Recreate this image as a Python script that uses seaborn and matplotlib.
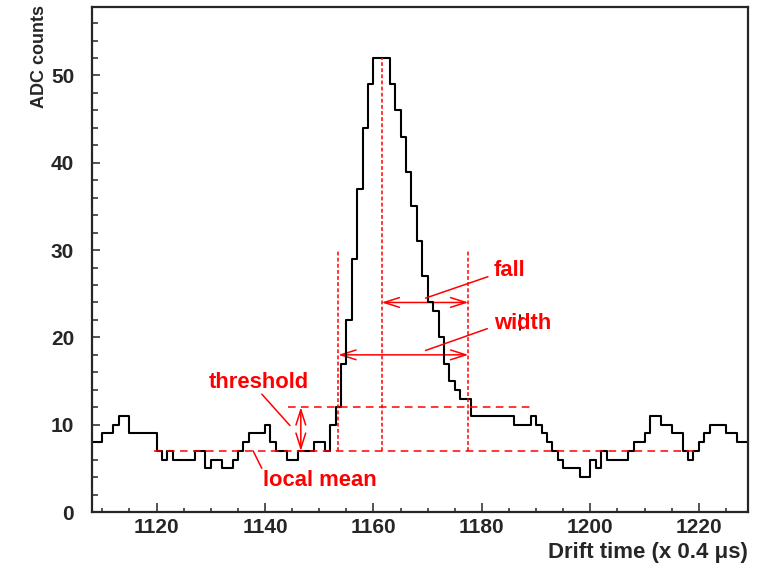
import matplotlib
matplotlib.use("Agg")
import matplotlib.pyplot as plt
import numpy as np
import pandas as pd
import seaborn as sns
from matplotlib.ticker import MultipleLocator
from matplotlib.patches import FancyArrowPatch

# ---------------- data ----------------
first_bin = 1108
adc_counts = [
    8, 8, 9, 9, 10, 11, 11, 9, 9, 9, 9, 9,          # 1108-1119
    7, 6, 7, 6, 6, 6, 6, 7, 7, 5,                    # 1120-1129
    6, 6, 5, 5, 6, 7, 8, 9, 9, 9,                    # 1130-1139
    10, 8, 7, 7, 6, 6, 7, 7, 7, 8,                   # 1140-1149
    8, 7, 10, 12, 17, 22, 29, 37, 44, 49,            # 1150-1159
    52, 52, 52, 49, 46, 43, 39, 35, 31, 27,          # 1160-1169
    24, 23, 20, 17, 15, 14, 13, 13, 11, 11,          # 1170-1179
    11, 11, 11, 11, 11, 11, 10, 10, 10, 11,          # 1180-1189
    10, 9, 8, 7, 6, 5, 5, 5, 4, 4,                   # 1190-1199
    6, 5, 7, 6, 6, 6, 6, 7, 8, 8,                    # 1200-1209
    9, 11, 11, 10, 10, 9, 9, 7, 6, 7,                # 1210-1219
    8, 9, 10, 10, 10, 9, 9, 8, 8,                    # 1220-1228
]
local_mean = 7
threshold = 12
peak_time = 1161.5
start_time = 1153.5
end_time = 1177.5
x_ticks = [1120, 1140, 1160, 1180, 1200, 1220]
y_ticks = [0, 10, 20, 30, 40, 50]

n = len(adc_counts)
times = [first_bin + i + 0.5 for i in range(n)]
df = pd.DataFrame({"time": times, "adc": adc_counts})

# ---------------- style ----------------
sns.set_style("ticks")
plt.rcParams["font.family"] = ["Liberation Sans", "DejaVu Sans"]
plt.rcParams["font.weight"] = "bold"

fig = plt.figure(figsize=(7.59, 5.67), dpi=100)
ax = fig.add_axes([0.1206, 0.097, 0.8644, 0.890])

sns.histplot(data=df, x="time", weights="adc", binwidth=1,
             binrange=(first_bin, first_bin + n), element="step",
             fill=False, color="black", linewidth=1.5, ax=ax)

ax.set_xlim(first_bin, first_bin + n)
ax.set_ylim(0, 57.8)

red = "#ff0000"
# local mean & threshold lines
ax.plot([1119.5, 1220], [local_mean, local_mean], color=red, lw=1.1,
        dashes=(5, 3.5))
ax.plot([1144.3, 1189.6], [threshold, threshold], color=red, lw=1.1,
        dashes=(5, 3.5))
# vertical markers
ax.plot([start_time, start_time], [local_mean, 30], color=red, lw=1.1, dashes=(2.5, 1.5))
ax.plot([end_time, end_time], [local_mean, 30], color=red, lw=1.1, dashes=(2.5, 1.5))
ax.plot([peak_time, peak_time], [local_mean, 52], color=red, lw=1.1, dashes=(2.5, 1.5))


def darrow(p0, p1):
    a = FancyArrowPatch(p0, p1, arrowstyle="<->,head_length=1.1,head_width=0.35",
                        mutation_scale=10, color=red, lw=1.1, shrinkA=0, shrinkB=0)
    ax.add_patch(a)


darrow((peak_time, 24), (end_time, 24))          # fall
darrow((start_time, 18), (end_time, 18))         # width
darrow((1146.6, local_mean), (1146.6, threshold))  # threshold

# leader lines
ax.plot([1181.1, 1169.6], [26.95, 24.5], color=red, lw=1.1)
ax.plot([1181.0, 1169.6], [21.0, 18.5], color=red, lw=1.1)
ax.plot([1139.4, 1144.6], [13.5, 9.9], color=red, lw=1.1)
ax.plot([1137.8, 1139.4], [7.0, 5.0], color=red, lw=1.1)

tk = dict(color=red, fontsize=15.8, fontweight="bold")
ax.text(1182.2, 27.7, "fall", ha="left", va="center", **tk)
ax.text(1182.2, 21.6, "width", ha="left", va="center", **tk)
ax.text(1138.9, 14.8, "threshold", ha="center", va="center", **tk)
ax.text(1150.1, 3.6, "local mean", ha="center", va="center", **tk)
# small cursor mark visible in the original
ax.plot([1187.0, 1187.0], [20.8, 22.6], color="black", lw=1.2)

# ticks
ax.set_xticks(x_ticks)
ax.set_yticks(y_ticks)
ax.xaxis.set_minor_locator(MultipleLocator(5))
ax.yaxis.set_minor_locator(MultipleLocator(2))
ax.tick_params(axis="both", which="both", direction="in", top=False, right=False,
               labelsize=15, width=1.1)
ax.tick_params(axis="x", which="major", length=6.7, pad=4.5)
ax.tick_params(axis="x", which="minor", length=3.2)
ax.tick_params(axis="y", which="major", length=6, pad=12.5)
ax.tick_params(axis="y", which="minor", length=4.5)
for lab in ax.get_xticklabels() + ax.get_yticklabels():
    lab.set_fontweight("bold")
for s in ax.spines.values():
    s.set_linewidth(1.6)
    s.set_visible(True)

ax.set_xlabel("Drift time (x 0.4 μs)", fontsize=16, fontweight="bold")
ax.xaxis.set_label_coords(1.0, -0.08)
ax.xaxis.label.set_horizontalalignment("right")
ax.xaxis.label.set_verticalalignment("center")
ax.set_ylabel("ADC counts", fontsize=13, fontweight="bold")
ax.yaxis.set_label_coords(-0.08, 1.005)
ax.yaxis.label.set_horizontalalignment("right")
ax.yaxis.label.set_verticalalignment("center")

fig.savefig("out.png", dpi=100)
